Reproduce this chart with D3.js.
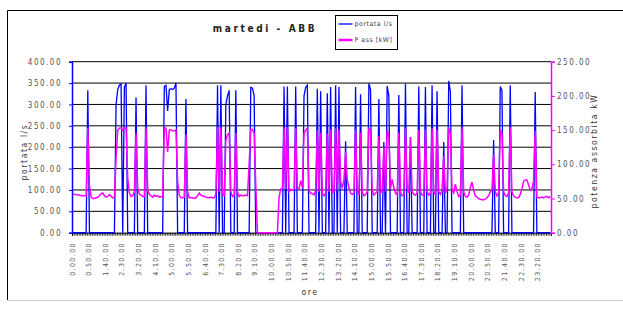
<!DOCTYPE html>
<html>
<head>
<meta charset="utf-8">
<script src="https://cdn.jsdelivr.net/npm/d3@7"></script>
<style>
  body { margin: 0; background: #fff; }
  text { font-family: "Liberation Sans Narrow", "DejaVu Sans Condensed", "Liberation Sans", sans-serif; }
</style>
</head>
<body>
<div id="chart"></div>
<script>
// portata l/s, one value every 5 minutes (12 per row = 1 hour)
const portata = [
  0, 0, 0, 0, 0, 0, 0, 0, 0, 333, 0, 0,
  0, 0, 0, 0, 0, 0, 0, 0, 0, 0, 0, 0,
  0, 0, 300, 335, 345, 348, 0, 340, 350, 0, 0, 0,
  0, 0, 316, 0, 0, 0, 0, 0, 345, 0, 0, 0,
  0, 0, 0, 0, 0, 0, 0, 342, 345, 285, 335, 337,
  335, 338, 350, 0, 0, 0, 0, 0, 313, 0, 0, 0,
  0, 0, 0, 0, 0, 0, 0, 0, 0, 0, 0, 0,
  0, 0, 0, 345, 0, 345, 0, 0, 300, 320, 333, 0,
  0, 0, 333, 0, 0, 0, 0, 0, 0, 0, 0, 340,
  338, 320, 0, 0, 0, 0, 0, 0, 0, 0, 0, 0,
  0, 0, 0, 0, 0, 0, 0, 342, 0, 342, 0, 0,
  0, 0, 342, 0, 0, 0, 0, 320, 340, 345, 0, 0,
  0, 0, 0, 337, 0, 331, 0, 0, 0, 326, 0, 341,
  0, 0, 345, 0, 341, 0, 0, 0, 214, 0, 0, 0,
  0, 0, 341, 0, 0, 324, 0, 0, 0, 0, 349, 335,
  0, 0, 0, 0, 313, 0, 0, 212, 0, 343, 320, 0,
  0, 0, 0, 0, 322, 0, 0, 0, 349, 0, 0, 224,
  0, 0, 0, 0, 342, 0, 0, 0, 341, 0, 0, 0,
  345, 0, 0, 331, 0, 0, 0, 212, 0, 0, 355, 330,
  0, 0, 0, 0, 0, 0, 345, 0, 0, 0, 0, 0,
  0, 0, 0, 0, 0, 0, 0, 0, 0, 0, 0, 0,
  0, 217, 0, 0, 0, 342, 333, 0, 0, 0, 0, 345,
  0, 0, 0, 0, 0, 0, 0, 0, 0, 0, 0, 0,
  0, 0, 329, 0, 0, 0, 0, 0, 0, 0, 0, 0
]

// P ass kW, same time steps
const potenza = [
  57, 56, 56, 55, 55, 54, 54, 54, 54, 153, 68, 52,
  50, 50, 51, 52, 54, 57, 58, 54, 52, 53, 56, 53,
  51, 51, 110, 150, 153, 153, 150, 153, 153, 80, 58, 53,
  54, 60, 146, 65, 57, 55, 53, 53, 154, 62, 56, 54,
  52, 55, 53, 54, 52, 53, 52, 153, 153, 118, 150, 150,
  149, 149, 150, 75, 55, 51, 51, 52, 144, 60, 51, 51,
  51, 50, 51, 54, 58, 55, 54, 53, 52, 51, 51, 52,
  51, 51, 56, 154, 60, 154, 56, 54, 135, 143, 146, 60,
  53, 55, 146, 60, 53, 55, 54, 54, 55, 54, 100, 151,
  151, 145, 70, 0, 0, 0, 0, 0, 0, 0, 0, 0,
  0, 0, 0, 0, 52, 64, 64, 154, 64, 154, 60, 63,
  62, 64, 153, 64, 64, 76, 66, 145, 150, 153, 62, 58,
  57, 55, 62, 150, 60, 146, 58, 54, 58, 145, 60, 151,
  58, 60, 153, 62, 151, 75, 65, 78, 118, 78, 65, 58,
  56, 58, 151, 62, 55, 146, 60, 54, 56, 60, 153, 148,
  62, 55, 58, 60, 141, 58, 62, 125, 60, 151, 140, 65,
  78, 66, 58, 55, 146, 60, 54, 55, 153, 65, 58, 139,
  60, 56, 55, 58, 150, 60, 55, 55, 151, 60, 55, 58,
  153, 60, 55, 151, 60, 56, 62, 112, 58, 65, 153, 145,
  62, 58, 71, 60, 53, 55, 154, 60, 53, 52, 55, 66,
  74, 62, 54, 52, 50, 49, 48, 48, 49, 51, 54, 60,
  62, 115, 60, 54, 58, 151, 145, 60, 54, 53, 58, 154,
  60, 54, 52, 51, 51, 56, 64, 75, 77, 77, 70, 62,
  64, 75, 149, 52, 51, 51, 52, 51, 52, 53, 51, 53
]

const timeLabels = ['0.00.00', '0.50.00', '1.40.00', '2.30.00', '3.20.00', '4.10.00', '5.00.00',
  '5.50.00', '6.40.00', '7.30.00', '8.20.00', '9.10.00', '10.00.00', '10.50.00', '11.40.00',
  '12.30.00', '13.20.00', '14.10.00', '15.00.00', '15.50.00', '16.40.00', '17.30.00',
  '18.20.00', '19.10.00', '20.00.00', '20.50.00', '21.40.00', '22.30.00', '23.20.00']
const labelStep = 10
const leftTicks = [0, 50, 100, 150, 200, 250, 300, 350, 400]
const rightTicks = [0, 50, 100, 150, 200, 250]

const width = 623
const height = 311
const plot = {left: 72, right: 551, top: 61.7, bottom: 232.7}

const svg = d3.select('#chart').append('svg')
  .attr('width', width)
  .attr('height', height)

// chart frame
svg.append('path')
  .attr('d', 'M7.5,300 V10.5 H623')
  .attr('fill', 'none')
  .attr('stroke', '#000')
svg.append('line')
  .attr('x1', 7).attr('x2', 623).attr('y1', 300.5).attr('y2', 300.5)
  .attr('stroke', '#ccc')

const x = d3.scaleLinear().domain([0, portata.length]).range([plot.left, plot.right])
const yL = d3.scaleLinear().domain([0, 400]).range([plot.bottom, plot.top])
const yR = d3.scaleLinear().domain([0, 250]).range([plot.bottom, plot.top])

// gridlines
svg.append('g')
  .selectAll('line')
  .data(leftTicks.filter(d => d > 0))
  .enter()
  .append('line')
  .attr('x1', plot.left)
  .attr('x2', plot.right)
  .attr('y1', d => yL(d))
  .attr('y2', d => yL(d))
  .attr('stroke', '#000')
  .attr('stroke-width', 1)

// bottom axis: a tick on every sample
let bottomAxis = svg.append('g')
  .attr('transform', `translate(0,${plot.bottom})`)
  .call(d3.axisBottom(x).tickValues(d3.range(0, portata.length + 1)).tickSize(3).tickFormat(''))
bottomAxis.select('.domain').attr('stroke', '#000')
bottomAxis.selectAll('.tick line').attr('stroke', '#000').attr('stroke-width', 0.8)

svg.append('g')
  .selectAll('text')
  .data(timeLabels)
  .enter()
  .append('text')
  .attr('transform', (d, i) => `translate(${x(i * labelStep) + 2.5},242) rotate(-90)`)
  .attr('text-anchor', 'end')
  .attr('font-size', 7)
  .attr('letter-spacing', 1.4)
  .attr('fill', '#555')
  .text(d => d)

// left axis
let leftAxis = svg.append('g')
  .attr('transform', `translate(${plot.left},0)`)
  .call(d3.axisLeft(yL).tickValues(leftTicks).tickSize(3).tickPadding(7).tickFormat(d3.format('.2f')))
leftAxis.select('.domain').attr('stroke', '#00f').attr('stroke-width', 1.5)
leftAxis.selectAll('.tick line').attr('stroke', '#00f')
leftAxis.selectAll('text')
  .attr('font-size', 8)
  .attr('letter-spacing', 1.5)
  .attr('fill', '#555')
  .attr('font-family', null)

// right axis
let rightAxis = svg.append('g')
  .attr('transform', `translate(${plot.right},0)`)
  .call(d3.axisRight(yR).tickValues(rightTicks).tickSize(4).tickPadding(2).tickFormat(d3.format('.2f')))
rightAxis.select('.domain').attr('stroke', '#f0f').attr('stroke-width', 1.5)
rightAxis.selectAll('.tick line').attr('stroke', '#f0f')
rightAxis.selectAll('text')
  .attr('font-size', 8)
  .attr('letter-spacing', 1.5)
  .attr('fill', '#555')
  .attr('font-family', null)

// series
let linePortata = d3.line().x((d, i) => x(i + 0.5)).y(d => yL(d))
let linePotenza = d3.line().x((d, i) => x(i + 0.5)).y(d => yR(d))

svg.append('path')
  .datum(portata)
  .attr('d', linePortata)
  .attr('fill', 'none')
  .attr('stroke', '#00f')
  .attr('stroke-width', 1.3)
svg.append('path')
  .datum(potenza)
  .attr('d', linePotenza)
  .attr('fill', 'none')
  .attr('stroke', '#f0f')
  .attr('stroke-width', 1.5)

// titles
svg.append('text')
  .attr('x', 265).attr('y', 32)
  .attr('text-anchor', 'middle')
  .attr('font-size', 10)
  .attr('font-weight', 'bold')
  .attr('letter-spacing', 2.6)
  .attr('fill', '#222')
  .text('martedi - ABB')

svg.append('text')
  .attr('transform', 'translate(27,152) rotate(-90)')
  .attr('text-anchor', 'middle')
  .attr('font-size', 8.5)
  .attr('letter-spacing', 1.6)
  .attr('fill', '#333')
  .text('portata l/s')

svg.append('text')
  .attr('transform', 'translate(597,151) rotate(-90)')
  .attr('text-anchor', 'middle')
  .attr('font-size', 8.5)
  .attr('letter-spacing', 1.6)
  .attr('fill', '#333')
  .text('potenza assorbita kW')

svg.append('text')
  .attr('x', 310).attr('y', 295)
  .attr('text-anchor', 'middle')
  .attr('font-size', 8.5)
  .attr('letter-spacing', 1.6)
  .attr('fill', '#333')
  .text('ore')

// legend
let legend = svg.append('g').attr('transform', 'translate(335.5,15.5)')
legend.append('rect')
  .attr('width', 62).attr('height', 34)
  .attr('fill', '#fff').attr('stroke', '#000')
let items = [{name: 'portata l/s', color: '#00f', w: 1.3}, {name: 'P ass [kW]', color: '#f0f', w: 2.5}]
let entry = legend.selectAll('.entry')
  .data(items)
  .enter()
  .append('g')
  .attr('class', 'entry')
  .attr('transform', (d, i) => `translate(0,${8.5 + i * 16})`)
entry.append('line')
  .attr('x1', 3).attr('x2', 17)
  .attr('stroke', d => d.color)
  .attr('stroke-width', d => d.w)
entry.append('text')
  .attr('x', 19).attr('dy', '0.35em')
  .attr('font-size', 6.5)
  .attr('letter-spacing', 0.5)
  .attr('fill', '#444')
  .attr('textLength', 38)
  .attr('lengthAdjust', 'spacingAndGlyphs')
  .text(d => d.name)
</script>
</body>
</html>
